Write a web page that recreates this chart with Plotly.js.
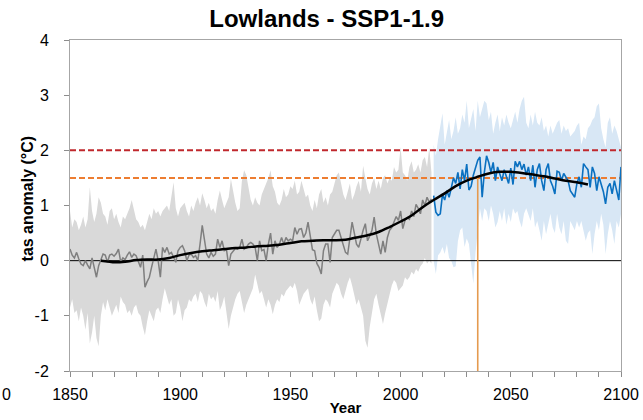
<!DOCTYPE html>
<html>
<head>
<meta charset="utf-8">
<script src="https://cdn.plot.ly/plotly-3.0.1.min.js"></script>
<style>html,body{margin:0;padding:0;background:#fff}#chart{width:643px;height:420px}</style>
</head>
<body>
<div id="chart"></div>
<script>
// ---- historical period (1850-2014) ----
const histStart = 1850;
const histAnnual = [
0.21,0.1,0.05,0.15,0.03,-0.06,-0.09,0.0,-0.08,-0.15,
0.05,-0.1,-0.3,-0.09,0.0,0.12,0.1,-0.03,0.1,0.12,
0.08,0.13,0.21,-0.02,0.05,0.02,0.1,0.16,0.06,0.12,
0.09,-0.02,-0.12,0.1,-0.48,-0.38,-0.3,-0.12,0.06,0.21,
0.0,-0.3,0.24,0.15,0.24,0.12,0.15,0.06,-0.03,0.18,
0.24,0.27,0.18,0.0,0.1,0.12,0.06,0.09,0.0,0.3,
0.64,0.38,0.12,0.05,0.15,0.08,0.12,0.39,0.24,0.36,
0.18,0.2,-0.09,0.12,0.18,0.22,0.21,0.24,0.39,0.21,
0.24,0.3,0.33,0.3,0.24,0.0,0.36,0.18,0.2,0.0,
0.3,0.5,0.12,0.36,0.24,0.3,0.42,0.3,0.42,0.36,
0.39,0.36,0.6,0.48,0.57,0.58,0.42,0.5,0.7,0.42,
0.2,0.18,-0.05,-0.12,-0.24,0.18,0.3,0.3,-0.03,0.42,
0.5,0.55,0.55,0.42,0.3,0.15,0.12,0.45,0.7,0.5,
0.3,0.24,0.42,0.55,0.67,0.36,0.45,0.55,0.79,0.48,
0.3,0.12,0.36,0.15,0.42,0.55,0.6,0.7,0.8,0.73,
0.9,0.58,0.73,0.78,0.75,0.9,0.8,1.02,0.95,0.85,
1.1,1.0,1.15,1.06,1.12];
const histUpper = [
0.9,0.6,0.75,0.7,0.55,0.65,0.8,0.6,0.75,1.33,
0.9,0.7,0.85,1.15,1.05,0.85,0.8,0.65,0.9,0.95,
0.75,0.85,0.7,0.6,0.8,0.75,0.85,0.95,1.1,0.9,
0.75,0.7,0.6,0.65,0.55,0.7,0.85,0.75,0.95,0.85,
0.9,0.8,0.9,0.95,1.0,0.9,1.15,1.42,0.95,0.8,
0.95,1.0,1.05,0.9,0.8,1.0,0.9,1.05,1.15,1.0,
1.22,1.1,0.95,1.05,0.9,0.95,0.85,1.1,1.27,1.1,
0.95,1.05,1.15,1.48,1.25,1.05,0.9,0.95,1.45,1.64,
1.55,1.3,1.1,1.0,1.15,1.05,1.0,1.2,1.3,1.4,
1.5,1.64,1.35,1.25,1.05,1.0,1.1,1.3,1.15,1.2,
1.35,1.3,1.45,1.2,1.25,1.45,1.3,1.15,1.2,1.0,
0.9,1.1,0.95,1.2,1.3,1.05,1.15,1.0,1.2,1.25,
1.4,1.55,1.6,1.4,1.2,1.1,1.25,1.4,1.1,1.2,
1.35,1.45,1.25,1.72,1.5,1.3,1.2,1.4,1.5,1.3,
1.45,1.3,1.5,1.55,1.4,1.5,1.45,1.7,1.6,1.65,
2.06,1.6,1.55,1.45,1.7,1.8,1.6,1.65,1.75,1.6,
1.82,1.88,1.7,2.05,1.6];
const histLower = [
-0.85,-0.7,-0.95,-0.9,-1.1,-0.85,-1.0,-1.25,-0.95,-1.5,
-1.3,-1.0,-1.4,-1.55,-1.0,-0.75,-0.9,-0.7,-0.85,-1.0,
-0.9,-0.8,-0.95,-0.65,-0.75,-0.8,-0.95,-0.9,-1.0,-0.85,
-0.8,-0.95,-1.0,-1.2,-1.35,-1.1,-0.9,-1.0,-1.1,-0.9,
-0.85,-0.95,-0.7,-0.5,-0.65,-0.8,-0.7,-1.0,-0.95,-0.7,
-0.85,-1.1,-0.9,-0.85,-0.7,-0.75,-0.65,-0.6,-0.75,-0.55,
-0.6,-0.75,-0.85,-0.6,-0.7,-0.65,-0.75,-0.55,-0.9,-0.8,
-0.65,-0.9,-1.24,-1.0,-0.85,-0.7,-0.6,-0.55,-0.75,-0.95,
-0.8,-0.7,-0.6,-0.5,-0.25,-0.45,-0.6,-0.55,-0.7,-0.85,
-0.7,-0.8,-0.97,-0.8,-0.7,-0.75,-0.6,-0.65,-0.55,-0.5,
-0.45,-0.5,-0.4,-0.55,-0.8,-0.7,-0.6,-0.55,-0.5,-0.7,
-0.8,-0.65,-0.9,-1.1,-1.05,-0.8,-0.7,-0.75,-0.85,-0.6,
-0.5,-0.4,-0.45,-0.6,-0.7,-0.55,-0.4,-0.3,-0.45,-0.6,
-0.8,-0.7,-0.85,-1.0,-1.45,-1.58,-1.2,-0.95,-0.7,-0.6,
-0.8,-1.0,-1.15,-0.95,-0.75,-0.6,-0.45,-0.35,-0.4,-0.55,
-0.5,-0.45,-0.3,-0.35,-0.3,-0.2,-0.25,-0.15,-0.2,-0.1,
-0.05,0.05,-0.05,0.0,-0.05];

// ---- SSP1-1.9 projection (2015-2100) ----
const projStart = 2015;
const projAnnual = [
1.18,0.88,0.82,0.85,1.2,1.1,1.27,1.15,1.32,1.5,
1.4,1.6,1.3,1.65,1.45,1.75,1.28,1.35,1.55,1.7,
1.82,1.88,1.15,1.6,1.9,1.78,1.6,1.78,1.45,1.7,
1.55,1.45,1.65,1.5,1.4,1.68,1.38,1.8,1.7,1.8,
1.65,1.75,1.55,1.7,1.45,1.73,1.33,1.65,1.76,1.45,
1.27,1.65,1.76,1.45,1.35,1.21,1.62,1.6,1.45,1.58,
1.5,1.45,1.27,1.2,1.15,1.4,1.52,1.33,1.76,1.7,
1.65,1.33,1.7,1.58,1.27,1.52,1.4,1.25,1.03,1.33,
1.4,1.21,1.45,1.3,1.1,1.7];
const projUpper = [
2.1,1.9,2.2,2.45,2.67,2.1,2.3,2.55,2.2,2.35,
2.6,2.3,2.4,2.65,2.5,2.9,2.4,2.55,2.75,2.35,
2.9,2.6,2.75,2.9,2.85,2.55,2.7,2.3,2.5,2.65,
2.35,2.6,2.45,2.65,2.5,2.4,2.55,2.7,2.5,2.75,
2.9,2.97,2.5,2.4,2.65,2.45,2.7,2.5,2.45,2.6,
2.35,2.45,2.25,2.45,2.3,2.4,2.5,2.55,2.3,2.45,
2.35,2.4,2.25,2.3,2.35,2.45,2.5,2.1,2.25,2.2,
2.4,2.45,2.55,2.6,2.8,2.85,2.4,2.2,2.05,2.5,
2.6,2.3,2.45,2.35,2.2,2.05];
const projLower = [
0.0,-0.24,0.1,0.15,0.25,0.12,0.3,0.05,0.0,-0.12,
-0.1,0.35,0.55,0.6,0.25,0.4,0.3,0.0,-0.42,0.15,
0.6,0.95,0.72,0.95,0.9,0.72,1.0,0.85,0.6,0.7,
0.9,0.72,0.95,0.65,0.85,0.7,0.95,0.85,0.9,0.72,
0.6,0.85,0.95,0.85,0.72,0.95,0.6,0.72,0.55,0.36,
0.72,0.48,0.66,0.85,0.6,0.5,0.85,0.6,0.48,0.72,
0.36,0.3,0.72,0.65,0.55,0.72,0.6,0.72,0.55,0.36,
0.5,0.55,0.12,0.48,0.72,0.55,0.85,0.65,0.12,0.48,
0.72,0.55,0.3,0.72,0.6,0.85];

// ---- smoothed (30-yr) anomaly ----
const smoothYears = [1864,1868,1870,1875,1880,1885,1890,1895,1900,1905,1910,1915,1920,1925,1930,1935,1940,1945,1950,1955,1960,1965,1970,1975,1980,1985,1990,1995,2000,2005,2010,2015,2020,2025,2030,2035,2040,2045,2050,2055,2060,2065,2070,2075,2080,2085];
const smoothValues = [0.0,-0.02,-0.03,-0.02,0.01,0.02,0.02,0.05,0.1,0.14,0.17,0.19,0.21,0.23,0.24,0.26,0.27,0.29,0.32,0.35,0.36,0.37,0.37,0.38,0.42,0.46,0.52,0.61,0.71,0.82,0.97,1.1,1.22,1.35,1.45,1.52,1.58,1.61,1.61,1.59,1.56,1.53,1.49,1.45,1.42,1.38];

// ---- thresholds ----
const thresholdHigh = 2.0;
const thresholdLow = 1.5;
const crossingYear = 2035;
const xRange = [1850, 2100];
const yRange = [-2, 4];
const xTickVals = [1850,1860,1870,1880,1890,1900,1910,1920,1930,1940,1950,1960,1970,1980,1990,2000,2010,2020,2030,2040,2050,2060,2070,2080,2090,2100];
const xTickText = ["1850","","","","","1900","","","","","1950","","","","","2000","","","","","2050","","","","","2100"];
const yTickVals = [-2,-1,0,1,2,3,4];
const yTickText = ["-2","-1","0","1","2","3","4"];

const histYears = histAnnual.map((_, i) => histStart + i);
const projYears = projAnnual.map((_, i) => projStart + i);

const band = (xs, up, lo, color) => ({
  x: xs.concat(xs.slice().reverse()),
  y: up.concat(lo.slice().reverse()),
  type: 'scatter', mode: 'lines', fill: 'toself', fillcolor: color,
  line: {width: 0, color: color}, hoverinfo: 'skip', showlegend: false
});

const traces = [
  band(histYears, histUpper, histLower, '#d9d9d9'),
  band(projYears, projUpper, projLower, '#d8e7f5'),
  {x: xRange, y: [0, 0], type: 'scatter', mode: 'lines', line: {color: '#000', width: 1}, showlegend: false},
  {x: xRange, y: [thresholdHigh, thresholdHigh], type: 'scatter', mode: 'lines', line: {color: '#c0282d', width: 2, dash: '6px,3px'}, showlegend: false},
  {x: xRange, y: [thresholdLow, thresholdLow], type: 'scatter', mode: 'lines', line: {color: '#ed7d31', width: 2, dash: '6px,3px'}, showlegend: false},
  {x: histYears, y: histAnnual, type: 'scatter', mode: 'lines', line: {color: '#7f7f7f', width: 1.5}, showlegend: false},
  {x: projYears, y: projAnnual, type: 'scatter', mode: 'lines', line: {color: '#0a70c0', width: 1.6}, showlegend: false},
  {x: smoothYears, y: smoothValues, type: 'scatter', mode: 'lines', line: {color: '#000', width: 2.5, shape: 'spline'}, showlegend: false},
  {x: [crossingYear, crossingYear], y: [yRange[0], thresholdLow], type: 'scatter', mode: 'lines', line: {color: '#e59a4f', width: 1.6}, showlegend: false}
];

const fontFam = '"Liberation Sans", Arial, sans-serif';
const layout = {
  width: 643, height: 420,
  margin: {l: 70, r: 22, t: 40, b: 49},
  paper_bgcolor: '#fff', plot_bgcolor: '#fff',
  font: {family: fontFam, color: '#000', size: 16},
  title: {text: '<b>Lowlands - SSP1-1.9</b>', font: {family: fontFam, size: 24, color: '#000'}, x: 0.508, xref: 'container', y: 0.955, yref: 'container', xanchor: 'center', yanchor: 'middle'},
  xaxis: {
    range: xRange, tickmode: 'array', tickvals: xTickVals, ticktext: xTickText,
    ticks: 'outside', ticklen: 5, tickcolor: '#8c8c8c', tickwidth: 1,
    showline: true, linecolor: '#a6a6a6', linewidth: 1, mirror: true,
    showgrid: false, zeroline: false, ticklabelstandoff: 4,
    tickfont: {family: fontFam, size: 16, color: '#000'},
    title: {text: '<b>Year</b>', font: {family: fontFam, size: 15, color: '#000'}, standoff: 0}
  },
  yaxis: {
    range: yRange, tickmode: 'array', tickvals: yTickVals, ticktext: yTickText,
    ticks: 'outside', ticklen: 5, tickcolor: '#8c8c8c', tickwidth: 1,
    showline: true, linecolor: '#a6a6a6', linewidth: 1, mirror: true,
    showgrid: false, zeroline: false, ticklabelstandoff: 12,
    tickfont: {family: fontFam, size: 16, color: '#000'},
    title: {text: ''}
  },
  annotations: [
    {text: '<b>tas anomaly (°C)</b>', xref: 'paper', yref: 'paper', x: -0.077, y: 0.52, xanchor: 'center', yanchor: 'middle', textangle: -90, showarrow: false, font: {family: fontFam, size: 16, color: '#000'}},
    {text: '0', xref: 'paper', yref: 'paper', x: -0.127, y: -0.07, xanchor: 'left', yanchor: 'middle', showarrow: false, font: {family: fontFam, size: 16, color: '#000'}}
  ]
};

Plotly.newPlot('chart', traces, layout, {displayModeBar: false, staticPlot: true});
</script>
</body>
</html>
